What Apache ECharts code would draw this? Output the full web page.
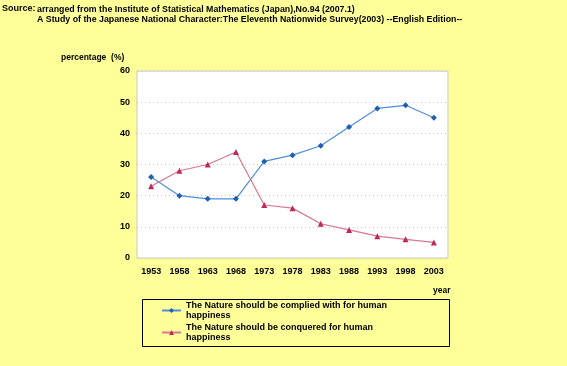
<!DOCTYPE html>
<html><head><meta charset="utf-8">
<script src="https://cdn.jsdelivr.net/npm/echarts@6/dist/echarts.min.js"></script>
<style>html,body{margin:0;padding:0;background:#FFFF99;}#c{width:567px;height:366px;}</style>
</head><body><div id="c"></div>
<script>
const years = ['1953','1958','1963','1968','1973','1978','1983','1988','1993','1998','2003'];
const complied = [26,20,19,19,31,33,36,42,48,49,45];
const conquered = [23,28,30,34,17,16,11,9,7,6,5];
const seriesNames = ['The Nature should be complied with for human\nhappiness','The Nature should be conquered for human\nhappiness'];
const yTicks = [0,10,20,30,40,50,60];

const chart = echarts.init(document.getElementById('c'));
const F = 'Liberation Sans, Arial, sans-serif';
chart.setOption({
  backgroundColor: '#FFFF99',
  animation: false,
  graphic: [
    {type:'text', left:2, top:4, style:{text:'Source:', font:'bold 9px '+F, fill:'#000'}},
    {type:'text', left:37, top:5, style:{text:'arranged from the Institute of Statistical Mathematics (Japan),No.94 (2007.1)', font:'bold 8.8px '+F, fill:'#000'}},
    {type:'text', left:37, top:15, style:{text:'A Study of the Japanese National Character:The Eleventh Nationwide Survey(2003) --English Edition--', font:'bold 8.8px '+F, fill:'#000'}},
    {type:'text', left:61, top:53, style:{text:'percentage  (%)', font:'bold 8.5px '+F, fill:'#000'}},
    {type:'text', left:433, top:286, style:{text:'year', font:'bold 8.5px '+F, fill:'#000'}},
    {type:'rect', shape:{x:137, y:71, width:311, height:187}, style:{fill:'#fff', stroke:'#c8c8c8', lineWidth:1}, z:-1},
    {type:'rect', shape:{x:142.5, y:299.5, width:307, height:47}, style:{fill:'none', stroke:'#000', lineWidth:1}, z:10}
  ],
  grid: {left:137, right:119, top:71, bottom:108, show:false},
  legend: {
    orient:'vertical', left:142, top:299,
    padding:[2,10,2,19], itemGap:3, itemWidth:19, itemHeight:6,
    textStyle:{fontFamily:F, fontWeight:'bold', fontSize:9, color:'#000', lineHeight:9.5}
  },
  xAxis: {
    type:'category', data:years, boundaryGap:true,
    axisLine:{show:false}, axisTick:{show:false},
    axisLabel:{color:'#000', fontFamily:F, fontWeight:'bold', fontSize:9, margin:9}
  },
  yAxis: {
    type:'value', min:0, max:60, interval:10,
    axisLine:{show:false}, axisTick:{show:false},
    axisLabel:{color:'#000', fontFamily:F, fontWeight:'bold', fontSize:9, margin:7},
    splitLine:{lineStyle:{color:'#f0b0c8', type:[1,3], width:1}}
  },
  series: [
    {name:seriesNames[0], type:'line', data:complied, symbol:'diamond', symbolSize:6,
     lineStyle:{color:'#4f8fd8', width:1.2}, itemStyle:{color:'#1f5fb0'}},
    {name:seriesNames[1], type:'line', data:conquered, symbol:'triangle', symbolSize:6,
     lineStyle:{color:'#d87890', width:1.2}, itemStyle:{color:'#c02858'}}
  ]
});
</script></body></html>
